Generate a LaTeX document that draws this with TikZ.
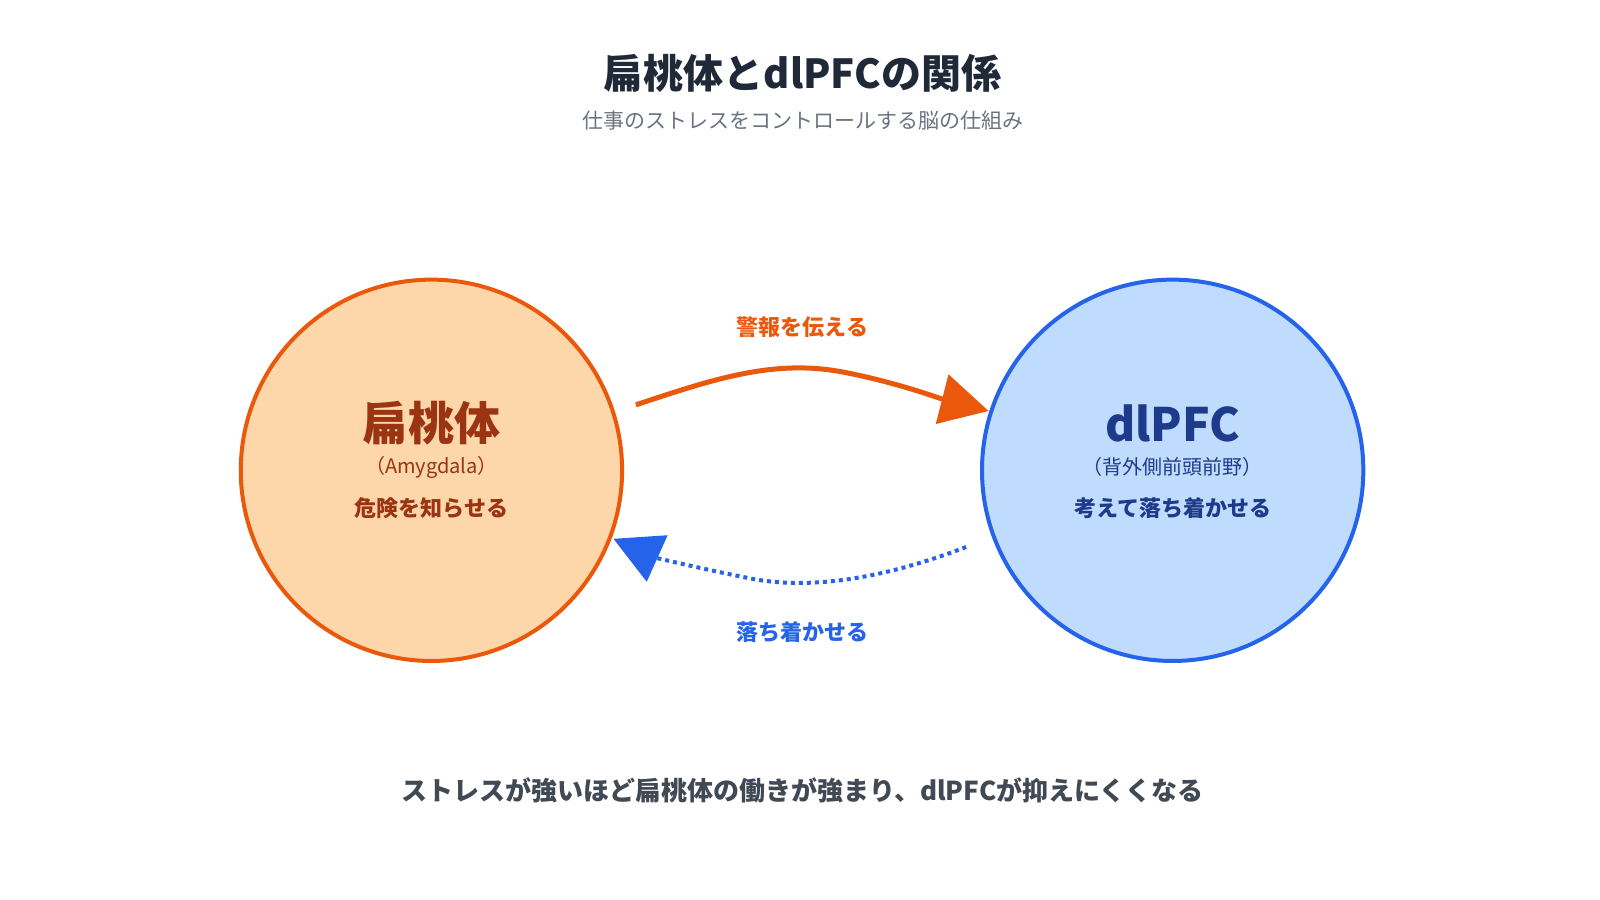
\documentclass[tikz,border=0pt]{standalone}
\usepackage{fontspec}
\setmainfont{Noto Sans CJK JP}
\usetikzlibrary{arrows.meta}
\definecolor{org}{HTML}{EA580C}
\definecolor{orgf}{HTML}{FDD6A9}
\definecolor{orgt}{HTML}{9A3412}
\definecolor{blu}{HTML}{2563EB}
\definecolor{bluf}{HTML}{BFDBFE}
\definecolor{blut}{HTML}{1E3A8A}
\definecolor{ttl}{HTML}{1F2937}
\definecolor{sub}{HTML}{6B7280}
\begin{document}
\begin{tikzpicture}[x=0.51125pt,y=-0.51125pt,
  circ/.style={circle,line width=2pt,minimum size=373*0.51125pt,inner sep=0pt},
  lbl/.style={font=\bfseries\fontsize{11}{13}\selectfont}]
\useasboundingbox (0,0) rectangle (1565,880);
\node[font=\bfseries\fontsize{20}{24}\selectfont,text=ttl] (title) at (785,72) {扁桃体とdlPFCの関係};
\node[font=\fontsize{10.5}{13}\selectfont,text=sub] (sub) at (785,118) {仕事のストレスをコントロールする脳の仕組み};
\node[circ,draw=org,fill=orgf] (amy) at (422,460) {};
\node[circ,draw=blu,fill=bluf] (pfc) at (1147,460) {};
\node[font=\bfseries\fontsize{23}{26}\selectfont,text=orgt] (amyt) at (422,414) {扁桃体};
\node[font=\fontsize{10}{12}\selectfont,text=orgt] (amys) at (422,457) {（Amygdala）};
\node[lbl,text=orgt] (amyd) at (422,497) {危険を知らせる};
\node[font=\bfseries\fontsize{23}{26}\selectfont,text=blut] (pfct) at (1147,414) {dlPFC};
\node[font=\fontsize{10}{12}\selectfont,text=blut] (pfcs) at (1147,457) {（背外側前頭前野）};
\node[lbl,text=blut] (pfcd) at (1147,497) {考えて落ち着かせる};
\coordinate (a1) at (622,396);
\coordinate (a2) at (967,402);
\draw[org,line width=2.5pt,-{Triangle[length=24pt,width=25pt]}] (a1) .. controls (700,370) and (760,350) .. (830,365) .. controls (880,375) and (920,390) .. (a2);
\coordinate (b1) at (945,535);
\coordinate (b2) at (600,527);
\draw[blu,line width=2pt,dotted,-{Triangle[length=24pt,width=25pt,sep=0pt]}] (b1) .. controls (880,560) and (800,580) .. (730,565) .. controls (680,555) and (640,545) .. (b2);
\node[lbl,text=org] (l1) at (785,320) {警報を伝える};
\node[lbl,text=blu] (l2) at (785,618) {落ち着かせる};
\node[font=\bfseries\fontsize{13}{16}\selectfont,text=ttl!85] (foot) at (785,773) {ストレスが強いほど扁桃体の働きが強まり、dlPFCが抑えにくくなる};
\end{tikzpicture}
\end{document}
